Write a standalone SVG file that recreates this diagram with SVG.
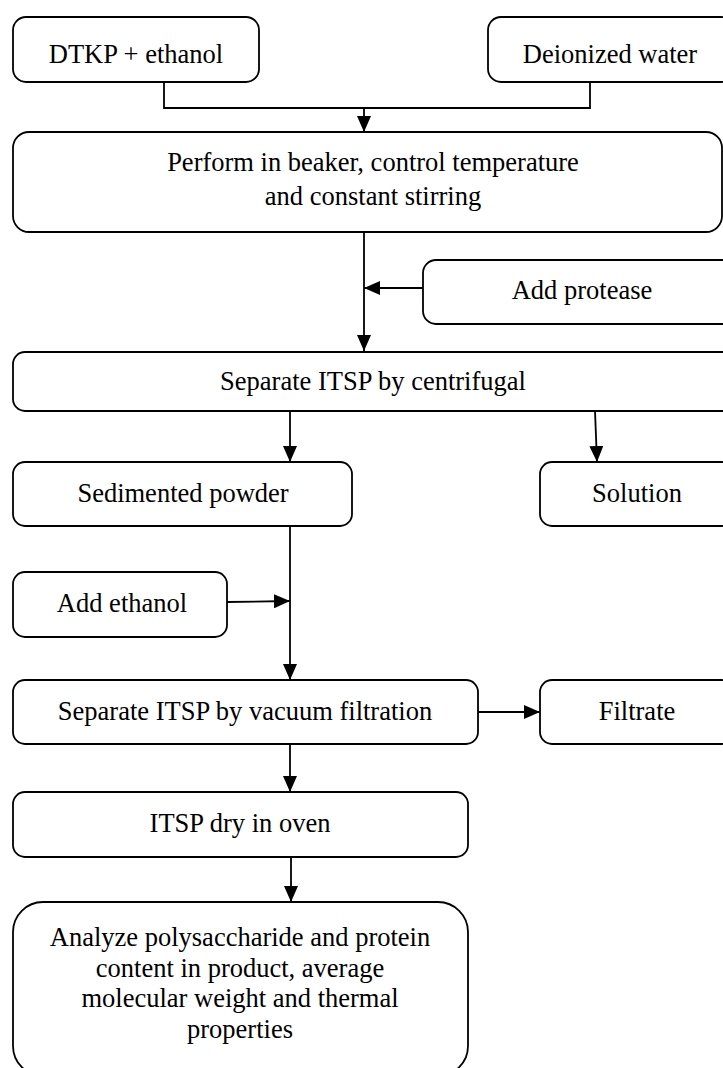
<svg xmlns="http://www.w3.org/2000/svg" width="723" height="1068" viewBox="0 0 723 1068">
<style>
.box{fill:#fff;stroke:#000;stroke-width:1.8}
.t{font-family:'Liberation Serif','DejaVu Serif',serif;font-size:26.5px;fill:#000;text-anchor:middle}
.c{fill:none;stroke:#000;stroke-width:1.8}
</style>
<defs>
<marker id="ah" viewBox="0 0 16 14" refX="16" refY="7" markerWidth="16" markerHeight="14" markerUnits="userSpaceOnUse" orient="auto">
<path d="M0,0 L16,7 L0,14 z" fill="#000"/>
</marker>
</defs>
<rect width="723" height="1068" fill="#fff"/>
<g id="connectors">
<path class="c" d="M164,82 V108 H590 V82"/>
<path class="c" d="M364,108 V132" marker-end="url(#ah)"/>
<path class="c" d="M364,232 V351" marker-end="url(#ah)"/>
<path class="c" d="M423,288 H364" marker-end="url(#ah)"/>
<path class="c" d="M290,411 V462" marker-end="url(#ah)"/>
<path class="c" d="M595,411 L597,462" marker-end="url(#ah)"/>
<path class="c" d="M290,526 V680" marker-end="url(#ah)"/>
<path class="c" d="M227,602 L290,601" marker-end="url(#ah)"/>
<path class="c" d="M478,712 H540" marker-end="url(#ah)"/>
<path class="c" d="M290,744 V792" marker-end="url(#ah)"/>
<path class="c" d="M291,857 V902" marker-end="url(#ah)"/>
</g>
<g id="n-dtkp"><rect class="box" x="13" y="17" width="246" height="65" rx="13"/><text class="t" x="136" y="63">DTKP + ethanol</text></g>
<g id="n-water"><rect class="box" x="488" y="17" width="246" height="65" rx="13"/><text class="t" x="610" y="63">Deionized water</text></g>
<g id="n-beaker"><rect class="box" x="13" y="132" width="709" height="100" rx="16"/><text class="t" x="373" y="171">Perform in beaker, control temperature</text><text class="t" x="373" y="205">and constant stirring</text></g>
<g id="n-protease"><rect class="box" x="423" y="260" width="318" height="64" rx="13"/><text class="t" x="582" y="299">Add protease</text></g>
<g id="n-centrifugal"><rect class="box" x="13" y="352" width="722" height="59" rx="12"/><text class="t" x="373" y="390">Separate ITSP by centrifugal</text></g>
<g id="n-sediment"><rect class="box" x="13" y="462" width="339" height="64" rx="12"/><text class="t" x="183" y="502">Sedimented powder</text></g>
<g id="n-solution"><rect class="box" x="540" y="462" width="194" height="64" rx="12"/><text class="t" x="637" y="502">Solution</text></g>
<g id="n-ethanol"><rect class="box" x="13" y="572" width="214" height="65" rx="12"/><text class="t" x="122" y="612">Add ethanol</text></g>
<g id="n-vacuum"><rect class="box" x="13" y="680" width="465" height="64" rx="12"/><text class="t" x="245" y="720">Separate ITSP by vacuum filtration</text></g>
<g id="n-filtrate"><rect class="box" x="540" y="680" width="194" height="64" rx="12"/><text class="t" x="637" y="720">Filtrate</text></g>
<g id="n-dry"><rect class="box" x="13" y="792" width="455" height="65" rx="12"/><text class="t" x="240" y="832">ITSP dry in oven</text></g>
<g id="n-analyze"><rect class="box" x="13" y="902" width="455" height="174" rx="30"/><text class="t" x="240" y="946">Analyze polysaccharide and protein</text><text class="t" x="240" y="977">content in product, average</text><text class="t" x="240" y="1007">molecular weight and thermal</text><text class="t" x="240" y="1038">properties</text></g>
</svg>
